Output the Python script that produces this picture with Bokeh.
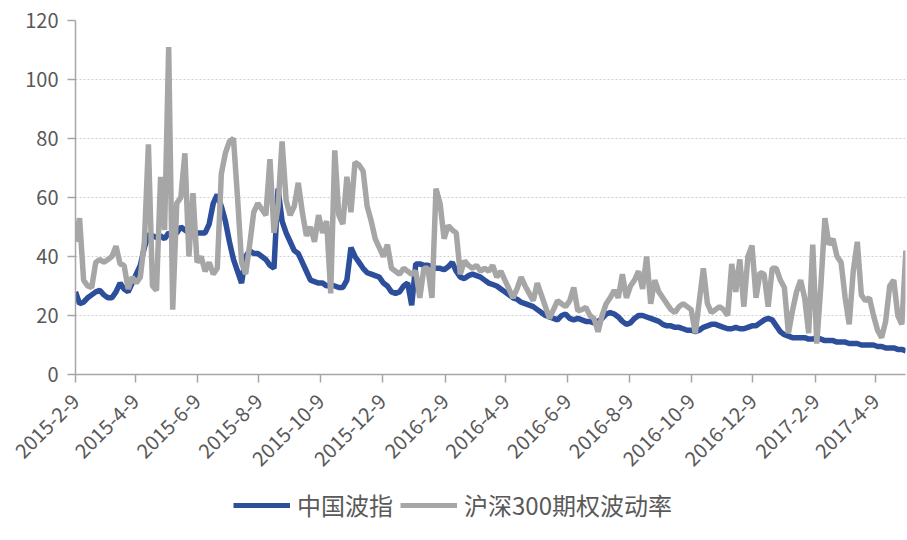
import pandas as pd
from bokeh.plotting import figure
from bokeh.layouts import column
from bokeh.models import Range1d, FixedTicker, Legend, LegendItem, CustomJSTickFormatter
from bokeh.embed import file_html
from bokeh.resources import INLINE

# ---- data (one sample every 4 calendar days) ----
start_date = "2015-02-09"
sample_step = "4D"

series_names = ["中国波指", "沪深300期权波动率"]

vix_china = [
    28, 24, 24.5, 26, 27, 28, 28.5, 27, 26, 26,
    28, 31, 29, 28, 31, 34, 37, 43, 47.5, 47,
    46.5, 47, 46, 48, 47, 48, 50, 49, 48, 47,
    48, 48, 48, 51, 58, 61, 57, 52, 45, 39,
    35, 31, 40, 42, 41, 41, 40, 39, 37, 36,
    63, 52, 48, 45, 42, 41, 38, 35, 32, 31.5,
    31, 31, 30, 30.5, 30, 29.5, 29.5, 32, 43, 40,
    38, 36, 34.5, 34, 33.5, 33, 31, 30, 28, 27.5,
    28, 30, 31, 23.5, 37.5, 37.5, 37, 37, 36.5, 36,
    36, 35.5, 36.5, 38, 35, 33, 32.5, 33.5, 34, 33.5,
    33, 32, 31, 30.5, 30, 29, 28, 27, 26, 25.5,
    24.5, 24, 23.5, 23, 22, 21, 20, 19.5, 19, 18.5,
    20, 20.5, 19, 18.5, 19, 18.5, 18, 18, 17.5, 18,
    19, 20.5, 21, 20.5, 19.5, 18, 17, 17.5, 19, 20,
    20, 19.5, 19, 18.5, 18, 17, 16.5, 16.5, 16, 16,
    15.5, 15, 15, 14.5, 15, 16, 16.5, 17, 17, 16.5,
    16, 15.5, 15.5, 16, 15.5, 15.5, 16, 16.5, 16.5, 17.5,
    18.5, 19, 18.5, 16.5, 14.5, 13.5, 13, 12.5, 12.5, 12.5,
    12.5, 12, 12, 12.5, 12, 11.5, 11.5, 11.5, 11, 11,
    11, 10.5, 10.5, 10.5, 10, 10, 10, 10, 9.5, 9.5,
    9, 9, 9, 8.5, 8.5, 8,
]

hs300_option_vol = [
    45, 53, 32, 30, 29.5, 38, 39, 38, 39, 40,
    43.5, 37.5, 37, 29, 33, 31, 33, 45, 78, 30,
    28.5, 67, 49, 111, 22, 58, 60, 75, 40, 61.5,
    38, 40, 35, 38, 34, 36, 68, 75, 79, 80,
    60, 38, 34, 44, 55, 58, 56, 54, 73, 48,
    57, 79, 59, 54, 57, 65, 55, 47, 50, 45,
    54, 48, 52, 27.5, 76, 54, 51, 67, 55, 72,
    71, 69, 57, 52, 46, 43, 40, 44, 36, 35,
    34, 36, 35, 34, 35, 26, 36, 36, 26, 63,
    58, 46, 50.5, 49, 48, 34, 38.5, 37, 36, 37,
    35, 36, 35, 37, 33, 35, 32, 29, 26, 29,
    33, 30, 27.5, 25, 31, 27, 23, 19, 22, 25,
    24, 23, 25, 29.5, 21.6, 22, 22.7, 20, 19, 14.5,
    20, 24, 26, 28.5, 26, 34, 26, 30, 32, 35,
    29, 40, 24, 32, 28, 26, 24, 22, 21, 23,
    24, 23, 22, 14, 25, 36, 24, 21, 22, 23,
    22, 20, 37.5, 28, 39, 23, 40, 43.7, 26, 34.6,
    34, 23, 36, 36, 32, 29.5, 14, 21.6, 28, 32,
    26, 14, 44, 10.5, 30, 53, 44, 46, 40, 38,
    26, 17, 35, 45, 27, 25, 26, 20, 15, 12.5,
    18, 30, 32, 20, 17, 42,
]

x_tick_labels = [
    "2015-2-9", "2015-4-9", "2015-6-9", "2015-8-9", "2015-10-9", "2015-12-9",
    "2016-2-9", "2016-4-9", "2016-6-9", "2016-8-9", "2016-10-9", "2016-12-9",
    "2017-2-9", "2017-4-9",
]
y_ticks = [0, 20, 40, 60, 80, 100, 120]

# ---- build ----
dates = pd.date_range(start_date, periods=len(vix_china), freq=sample_step)
tick_ms = [pd.Timestamp(s).value / 1e6 for s in x_tick_labels]

x_start = pd.Timestamp(start_date)
x_end = x_start + pd.Timedelta(days=819.6)

TEXT = "#595959"
FONT = "Noto Sans CJK SC"
BLUE = "#2C4E9B"
GRAY = "#A6A6A6"

p = figure(
    width=907, height=480,
    x_axis_type="datetime",
    x_range=Range1d(x_start, x_end),
    y_range=Range1d(0, 120),
    output_backend="svg",
    toolbar_location=None,
    min_border_left=75, min_border_right=2, min_border_top=20,
    min_border_bottom=106,
)
p.outline_line_color = None
p.background_fill_color = "white"

p.line(dates, vix_china, line_color=BLUE, line_width=5.5)
p.line(dates, hs300_option_vol, line_color=GRAY, line_width=5.5)

p.xgrid.grid_line_color = None
p.ygrid.grid_line_color = "#D0D0D0"
p.ygrid.grid_line_dash = "2 2"
p.ygrid.grid_line_width = 1

p.yaxis.ticker = FixedTicker(ticks=y_ticks)
p.xaxis.ticker = FixedTicker(ticks=tick_ms)
p.xaxis.formatter = CustomJSTickFormatter(code="""
const d = new Date(tick);
return d.getUTCFullYear() + "-" + (d.getUTCMonth() + 1) + "-" + d.getUTCDate();
""")
p.xaxis.major_label_orientation = 0.785398

for ax in (p.xaxis[0], p.yaxis[0]):
    ax.axis_line_color = GRAY
    ax.axis_line_width = 1.5
    ax.major_tick_line_color = GRAY
    ax.major_tick_line_width = 1.5
    ax.major_tick_in = 0
    ax.major_tick_out = 8
    ax.minor_tick_line_color = None
    ax.major_label_text_color = TEXT
    ax.major_label_text_font = FONT
    ax.major_label_text_font_size = "20px"
p.yaxis.major_label_standoff = 9
p.xaxis.major_label_standoff = 15

# ---- legend strip below the chart ----
lg = figure(
    width=907, height=55,
    x_range=Range1d(0, 1), y_range=Range1d(0, 1),
    output_backend="svg", toolbar_location=None,
    min_border=0,
)
lg.axis.visible = False
lg.grid.grid_line_color = None
lg.outline_line_color = None
# legend keys only: single off-range point, so nothing is drawn in the strip itself
k_blue = lg.line([5], [5], line_color=BLUE, line_width=5)
k_gray = lg.line([5], [5], line_color=GRAY, line_width=5)
legend = Legend(
    items=[LegendItem(label=series_names[0], renderers=[k_blue]),
           LegendItem(label=series_names[1], renderers=[k_gray])],
    orientation="horizontal",
    location=(158, 13),
    border_line_color=None,
    background_fill_alpha=0,
    label_text_font=FONT,
    label_text_font_size="24px",
    label_text_color=TEXT,
    glyph_width=57,
    label_standoff=7,
    spacing=7,
    padding=0,
    margin=0,
)
lg.add_layout(legend, "center")

layout = column(p, lg, spacing=0)
open("out.html", "w").write(file_html(layout, INLINE))
